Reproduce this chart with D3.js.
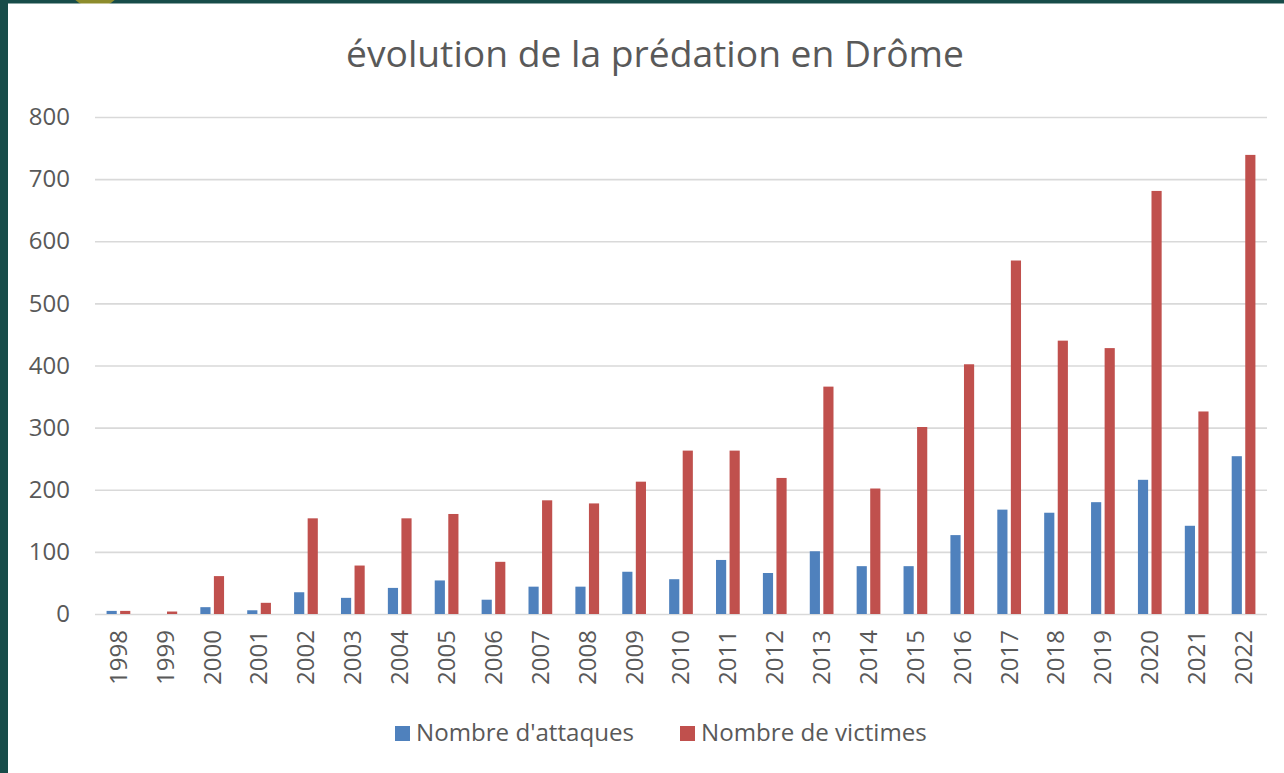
<!DOCTYPE html>
<html>
<head>
<meta charset="utf-8">
<script src="https://cdn.jsdelivr.net/npm/d3@7"></script>
<style>
  body { margin: 0; background: #174c49; overflow: hidden; }
  text { font-family: "Open Sans", "Noto Sans", sans-serif; fill: #595959; }
</style>
</head>
<body>
<div id="chart"></div>
<script>
// chart data
var years = ["1998","1999","2000","2001","2002","2003","2004","2005","2006","2007","2008","2009",
  "2010","2011","2012","2013","2014","2015","2016","2017","2018","2019","2020","2021","2022"];
var attaques = [5, 0, 11, 6, 35, 26, 42, 54, 23, 44, 44, 68, 56, 87, 66, 101, 77, 77, 127, 168, 163, 180, 216, 142, 254];
var victimes = [5, 4, 61, 18, 154, 78, 154, 161, 84, 183, 178, 213, 263, 263, 219, 366, 202, 301, 402, 569, 440, 428, 681, 326, 739];
var seriesNames = ["Nombre d'attaques", "Nombre de victimes"];
var seriesColors = ["#4f81bd", "#c0504d"];
var yTicks = [0, 100, 200, 300, 400, 500, 600, 700, 800];

var svgWidth = 1284;
var svgHeight = 773;

// plot area
var plot = { left: 95, right: 1267, top: 117, bottom: 614 };

var svg = d3.select("#chart")
  .append("svg")
  .attr("width", svgWidth)
  .attr("height", svgHeight);

// frame: teal background, olive dot peeking at the top, white panel
svg.append("rect")
  .attr("width", svgWidth)
  .attr("height", svgHeight)
  .attr("fill", "#174c49");

svg.append("circle")
  .attr("cx", 95)
  .attr("cy", -20)
  .attr("r", 28)
  .attr("fill", "#8d8c2c");

svg.append("rect")
  .attr("x", 8)
  .attr("y", 3.5)
  .attr("width", svgWidth - 8)
  .attr("height", svgHeight - 3.5)
  .attr("fill", "#ffffff");

// scales
var xScale = d3.scaleBand()
  .domain(years)
  .range([plot.left, plot.right])
  .paddingInner(0.494)
  .paddingOuter(0.247);

var xInner = d3.scaleBand()
  .domain(seriesNames)
  .range([0, xScale.bandwidth()])
  .paddingInner(0.25);

var yScale = d3.scaleLinear()
  .domain([0, 800])
  .range([plot.bottom, plot.top]);

// gridlines
var leftAxis = d3.axisLeft(yScale)
  .tickValues(yTicks)
  .tickSize(-(plot.right - plot.left))
  .tickPadding(25);

var yAxis = svg.append("g")
  .attr("transform", `translate(${plot.left}, 0)`)
  .call(leftAxis);

yAxis.select(".domain").remove();
yAxis.selectAll("line")
  .attr("stroke", "#d9d9d9")
  .attr("stroke-width", 1.6);
yAxis.selectAll("text")
  .attr("font-size", 24)
  .attr("fill", "#595959");

// x axis labels (rotated)
var bottomAxis = d3.axisBottom(xScale)
  .tickSize(0)
  .tickPadding(0);

var xAxis = svg.append("g")
  .attr("transform", `translate(0, ${plot.bottom})`)
  .call(bottomAxis);

xAxis.select(".domain").remove();
xAxis.selectAll("text")
  .attr("font-size", 24)
  .attr("fill", "#595959")
  .attr("text-anchor", "end")
  .attr("transform", "rotate(-90)")
  .attr("x", -16)
  .attr("y", 0)
  .attr("dy", "0.35em");

// bars
var rows = years.map((y, i) => ({ year: y, values: [attaques[i], victimes[i]] }));

var groups = svg.append("g")
  .selectAll("g")
  .data(rows)
  .enter()
  .append("g")
  .attr("transform", d => `translate(${xScale(d.year)}, 0)`);

groups.selectAll("rect")
  .data(d => d.values.map((v, j) => ({ name: seriesNames[j], value: v, color: seriesColors[j] })))
  .enter()
  .append("rect")
  .attr("x", d => xInner(d.name))
  .attr("y", d => yScale(d.value))
  .attr("width", xInner.bandwidth())
  .attr("height", d => yScale(0) - yScale(d.value))
  .attr("fill", d => d.color);

// title
var title = svg.append("text")
  .attr("x", 655)
  .attr("y", 67)
  .attr("text-anchor", "middle")
  .attr("font-size", 32)
  .text("évolution de la prédation en Drôme");
fitWidth(title, 618);

// legend
var legendX = [395, 680];
seriesNames.forEach((name, i) => {
  svg.append("rect")
    .attr("x", legendX[i])
    .attr("y", 726)
    .attr("width", 15)
    .attr("height", 15)
    .attr("fill", seriesColors[i]);
  var t = svg.append("text")
    .attr("x", legendX[i] + 21)
    .attr("y", 733)
    .attr("dy", "0.35em")
    .attr("font-size", 22)
    .text(name);
  fitWidth(t, i === 0 ? 218 : 226);
});

// scale font so the text takes the given width
function fitWidth(sel, target) {
  var size = +sel.attr("font-size");
  var len = sel.node().getComputedTextLength();
  if (len > 0) sel.attr("font-size", size * target / len);
}
</script>
</body>
</html>
